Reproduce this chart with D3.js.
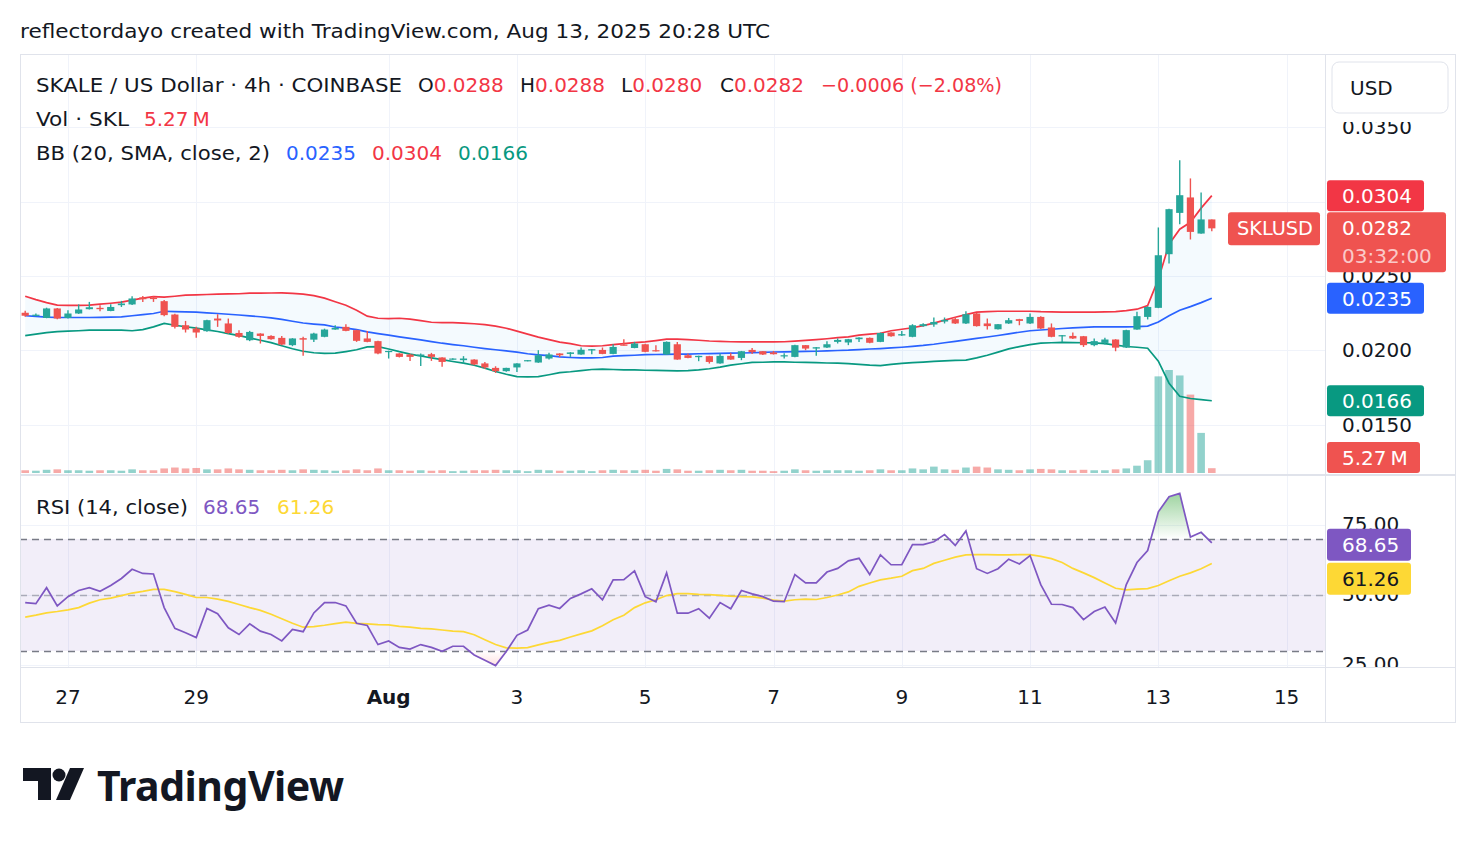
<!DOCTYPE html>
<meta charset="utf-8">
<style>
    body { margin: 0; background: #fff; }
    text { font-family: "DejaVu Sans", sans-serif; }
    text.logo { font-family: "Noto Sans", sans-serif; }
</style>
<body>
<script src="https://d3js.org/d3.v7.min.js"></script>
<script>
// SKL/USD 4h candles, first bar Jul 26 08:00 UTC
var startTime = Date.UTC(2025, 6, 26, 8);
var barMs = 4 * 3600 * 1000;

var opens = [0.02252,0.02232,0.02217,0.02281,0.02217,0.02247,0.02276,0.02285,0.02264,0.02303,
0.02308,0.02355,0.02352,0.0233,0.0224,0.02168,0.02146,0.02128,0.02213,0.0218,
0.02116,0.02067,0.02112,0.02096,0.02083,0.02034,0.02081,0.02071,0.0209,0.02139,
0.02157,0.02135,0.02079,0.02061,0.01989,0.01978,0.01971,0.0196,0.01973,0.01951,
0.01937,0.01933,0.01937,0.01911,0.01881,0.01859,0.01884,0.01926,0.01917,0.01944,
0.01978,0.01975,0.01971,0.01998,0.02002,0.01975,0.02038,0.02015,0.0204,0.02,
0.01971,0.0204,0.01966,0.01953,0.0196,0.01911,0.01962,0.01948,0.02002,0.01993,
0.01985,0.01958,0.01955,0.02034,0.02011,0.02018,0.02056,0.02052,0.02074,0.02083,
0.02056,0.02119,0.02099,0.0209,0.02162,0.02173,0.02193,0.02209,0.0218,0.02247,
0.0218,0.02141,0.0218,0.02209,0.0218,0.02224,0.02153,0.02094,0.02096,0.02094,
0.02034,0.02049,0.02072,0.02018,0.02139,0.02224,0.02285,0.02646,0.02924,0.03028,
0.02785,0.0288];
var highs = [0.02266,0.02247,0.02286,0.02284,0.02269,0.02308,0.02325,0.02303,0.0231,0.02332,
0.02363,0.02365,0.02363,0.02337,0.02246,0.02197,0.02157,0.02205,0.02242,0.02213,
0.02135,0.0213,0.02114,0.02101,0.02096,0.02081,0.0209,0.02118,0.02145,0.02168,
0.02175,0.02138,0.0213,0.02064,0.01997,0.0198,0.01976,0.01978,0.01982,0.01953,
0.01946,0.0196,0.01939,0.01921,0.01892,0.01882,0.01913,0.01934,0.02,0.01982,
0.0198,0.01987,0.02018,0.02008,0.02018,0.0204,0.02074,0.02056,0.02044,0.02034,
0.02059,0.02056,0.01978,0.01963,0.01962,0.01978,0.01982,0.01995,0.02015,0.01995,
0.01995,0.0198,0.02036,0.02035,0.02022,0.02061,0.02079,0.02076,0.02087,0.02085,
0.02119,0.02121,0.0213,0.02175,0.02182,0.0222,0.0222,0.02224,0.02262,0.02251,
0.02213,0.02177,0.02217,0.02211,0.02247,0.02229,0.0218,0.02102,0.02119,0.02096,
0.02079,0.02083,0.02074,0.02138,0.02258,0.02296,0.02826,0.02952,0.03279,0.03156,
0.03061,0.0288];
var lows = [0.02225,0.02229,0.02215,0.02209,0.02213,0.02244,0.02274,0.02262,0.02262,0.02291,
0.02305,0.02325,0.02325,0.02229,0.02146,0.02119,0.02083,0.02125,0.02157,0.02111,
0.02084,0.02061,0.02045,0.02071,0.02034,0.02027,0.01963,0.02056,0.02087,0.02137,
0.02128,0.02056,0.02054,0.01973,0.01944,0.01951,0.01928,0.01894,0.01928,0.01888,
0.01935,0.0191,0.01899,0.01874,0.01847,0.01855,0.01854,0.01925,0.01915,0.01937,
0.01955,0.01955,0.0197,0.01973,0.01973,0.01973,0.02032,0.02013,0.01987,0.01991,
0.01968,0.01935,0.01946,0.01926,0.0191,0.01908,0.01935,0.01933,0.01975,0.01968,
0.01971,0.01944,0.01953,0.02,0.01962,0.02015,0.02045,0.02034,0.02056,0.02047,
0.02054,0.02091,0.02096,0.02087,0.02158,0.02157,0.0218,0.02177,0.02177,0.02159,
0.02139,0.02139,0.02177,0.02168,0.02177,0.02143,0.02087,0.02056,0.02076,0.02022,
0.02027,0.02038,0.01993,0.02015,0.02137,0.02207,0.02283,0.02584,0.02848,0.02745,
0.02783,0.028];
var closes = [0.02232,0.02239,0.02281,0.02213,0.02247,0.02274,0.02289,0.02276,0.02291,0.02314,
0.02348,0.02343,0.02344,0.02236,0.02157,0.02139,0.02119,0.02202,0.022,0.02116,
0.0209,0.02123,0.02096,0.02074,0.02038,0.02079,0.02071,0.02112,0.02139,0.0215,
0.0213,0.02063,0.02056,0.01978,0.01995,0.01955,0.01955,0.01971,0.01955,0.01921,
0.01944,0.01944,0.01904,0.01884,0.01859,0.01881,0.01911,0.01933,0.01966,0.01971,
0.01966,0.01985,0.02003,0.02007,0.01975,0.02022,0.02034,0.02045,0.01989,0.01993,
0.02056,0.01937,0.01948,0.01962,0.01921,0.01962,0.01937,0.01993,0.01987,0.01971,
0.01973,0.01966,0.02034,0.02011,0.0202,0.0204,0.02069,0.02074,0.02085,0.0205,
0.02116,0.02094,0.02108,0.02168,0.02175,0.0219,0.02204,0.0218,0.02242,0.02162,
0.02162,0.02175,0.02202,0.02197,0.02224,0.02146,0.0209,0.02101,0.02079,0.02034,
0.02061,0.02072,0.02017,0.02135,0.02229,0.02291,0.02639,0.02949,0.03043,0.02796,
0.0288,0.0282];
// volume in millions of SKL
var volumes = [3,2.5,3.5,4,3,3,2.5,3,3,2.5,
4,3,3,5,6,5,5.5,4,4,5,
4,3.5,3,3,3.5,3,4,3.5,3,2.5,
3,4,3,5,3,3,2.5,3,2.5,3,
2,2.5,3,3,3.5,3,3,2,3.5,3,
2.5,2.5,3,2,3,3.5,3,3,3.5,2.5,
4.5,4,2.5,2.5,3,3.5,3,3.5,2.5,2.5,
2,2.5,4,3,2.5,3,3,3,2.5,3,
4,3,3,5,4,7,4,3.5,6,7,
6,4,3.5,3,4,4.5,4,3,3,3.5,
3,3,4,5,8,14,106,113,107,86,
44,5.27];

// Bollinger bands (20, 2) as shown
var bbUpper = [0.02363,0.0234,0.0232,0.02303,0.02301,0.02301,0.02303,0.0231,0.02316,0.02323,
0.02337,0.0235,0.0236,0.02357,0.02363,0.0237,0.02372,0.02375,0.02377,0.02379,
0.0238,0.02384,0.02384,0.02385,0.02386,0.02382,0.02377,0.02367,0.0235,0.02326,
0.02303,0.02269,0.02229,0.02215,0.02213,0.02215,0.02209,0.02199,0.02188,0.02186,
0.02185,0.02182,0.02178,0.02172,0.02162,0.02148,0.02128,0.02108,0.02088,0.02071,
0.02054,0.02044,0.0203,0.02027,0.0203,0.02038,0.02044,0.02051,0.02056,0.02065,
0.02074,0.02074,0.02071,0.02067,0.02062,0.02059,0.02057,0.02056,0.02056,0.02056,
0.02056,0.02057,0.02061,0.02066,0.02071,0.02077,0.02084,0.0209,0.02101,0.02108,
0.02114,0.02131,0.02141,0.02151,0.02165,0.02182,0.02202,0.02222,0.02239,0.02256,
0.02259,0.02262,0.02262,0.02262,0.02262,0.02259,0.02258,0.02256,0.02256,0.02256,
0.02256,0.02258,0.0226,0.02266,0.02276,0.023,0.02478,0.02713,0.02814,0.02861,
0.02956,0.0304];
var bbBasis = [0.02232,0.02227,0.02222,0.0222,0.0222,0.0222,0.0222,0.02221,0.02222,0.02224,
0.02232,0.0224,0.02247,0.02262,0.0226,0.02258,0.02256,0.02251,0.02247,0.02242,
0.02237,0.02231,0.02225,0.02217,0.02207,0.02195,0.02183,0.02176,0.0217,0.02156,
0.02148,0.02138,0.02123,0.02112,0.02101,0.0209,0.02079,0.02069,0.02058,0.02047,
0.02038,0.0203,0.0202,0.02011,0.02003,0.01995,0.01987,0.01976,0.01969,0.01963,
0.01955,0.01951,0.01948,0.01949,0.01951,0.0196,0.01963,0.01966,0.0197,0.01971,
0.01972,0.01973,0.01974,0.01976,0.01977,0.01978,0.0198,0.01981,0.01983,0.01986,
0.01988,0.01989,0.01991,0.01992,0.01993,0.01996,0.01998,0.02,0.02004,0.02008,
0.02011,0.02015,0.0202,0.02026,0.02032,0.0204,0.0205,0.02059,0.02069,0.02079,
0.02089,0.02099,0.0211,0.02121,0.02131,0.02136,0.02141,0.02146,0.0215,0.02153,
0.02157,0.02157,0.02157,0.02157,0.02158,0.02162,0.0219,0.02232,0.02269,0.02293,
0.0232,0.0235];
var bbLower = [0.02098,0.02108,0.02118,0.02125,0.02128,0.02131,0.02135,0.02135,0.02135,0.02135,
0.02131,0.02138,0.02157,0.0218,0.02168,0.02158,0.02148,0.02137,0.02126,0.02112,
0.02098,0.02083,0.02067,0.02051,0.0203,0.0201,0.01993,0.01983,0.01978,0.0198,
0.01991,0.02003,0.02022,0.02024,0.02008,0.0199,0.01974,0.01961,0.01948,0.01936,
0.01924,0.01913,0.01899,0.01879,0.01857,0.01838,0.01822,0.0182,0.01822,0.01835,
0.01849,0.01855,0.01863,0.0187,0.01872,0.0187,0.01868,0.01867,0.01865,0.01864,
0.01863,0.01861,0.01862,0.01867,0.01875,0.01886,0.01899,0.01909,0.01918,0.01919,
0.01921,0.01921,0.01919,0.01918,0.01916,0.01914,0.01913,0.0191,0.01904,0.01899,
0.01896,0.01904,0.01911,0.01916,0.0192,0.01925,0.01928,0.01931,0.01933,0.01948,
0.01966,0.01987,0.02009,0.02024,0.02037,0.02047,0.0205,0.02052,0.02051,0.0205,
0.02049,0.02044,0.02034,0.02025,0.0202,0.02013,0.01926,0.01778,0.0169,0.01675,
0.01667,0.0166];

// RSI (14) and its moving average
var rsi = [47.3,46.9,52.6,46.1,49.4,51.6,52.6,51.3,53.4,55.9,
59.2,57.7,57.5,45.5,38.1,36.5,34.8,45.2,43.3,38.3,
35.9,39.7,37.1,35.9,33.6,37.7,36.9,43.6,47.3,47.3,
46.1,39.9,39.1,32.3,33.6,31.3,30.7,32.3,31.3,29.9,
31.7,31.7,28.6,26.7,24.8,29.8,35.6,37.5,45.1,46.4,
45.2,48.8,50.4,52.2,48.3,55.4,55.5,58.6,49.4,47.6,
57.9,43.5,43.5,45.1,41.7,47.3,45.1,51.6,50.4,49.4,
47.8,47.6,57.3,54.3,54.3,58.2,59.5,62.2,63.1,57.3,
64.3,60.8,60.8,68,68,69,71.6,67.7,72.9,59.4,
57.7,59.4,62.8,61.1,64.1,53.7,46.7,46.6,45.5,41.2,
44.1,45.7,40,53.7,61.6,65.9,79.7,85.1,86.3,70.7,
72.4,68.65];
var rsiMa = [42.1,42.8,43.6,44.1,44.7,45.5,47.1,48.3,48.9,49.8,
50.7,51.3,52,52,51.2,50.2,49.1,49.1,48.5,47.7,
46.6,45.5,44.5,43.1,41.5,39.9,38.5,38.7,39.2,39.8,
40.3,39.9,39.7,39.4,39.3,38.8,38.5,38.1,37.9,37.5,
37.1,36.9,35.8,34,32.3,31.1,31,31.2,32.2,33.1,
33.8,35,36.1,37.2,39,41.2,42.8,45.5,47.2,48.3,
49.8,50.5,50.5,50.2,50.1,49.9,49.6,49.4,49.3,48.9,
48.2,47.8,48.3,48.5,48.4,49.1,50,51.1,53.1,54.3,
55.4,56,56.7,58.7,59.5,61.3,62.4,63.5,64.3,64.4,
64.4,64.3,64.3,64.4,64.4,63.8,63,61.6,59.5,57.9,
56.2,54.3,52.4,51.8,52.1,52.3,53.4,55.1,56.7,57.9,
59.4,61.26];

var priceTicks = [0.015, 0.02, 0.025, 0.03, 0.035];
var rsiTicks = [25, 50, 75];
var timeTicks = [Date.UTC(2025,6,27), Date.UTC(2025,6,29), Date.UTC(2025,7,1), Date.UTC(2025,7,3),
    Date.UTC(2025,7,5), Date.UTC(2025,7,7), Date.UTC(2025,7,9), Date.UTC(2025,7,11),
    Date.UTC(2025,7,13), Date.UTC(2025,7,15)];
var timeLabels = ["27", "29", "Aug", "3", "5", "7", "9", "11", "13", "15"];

var green = "#26a69a", red = "#ef5350";
var width = 1476, height = 844;
var idx = d3.range(closes.length);
var dates = idx.map(function(i) { return new Date(startTime + i * barMs); });

var svg = d3.select("body").append("svg")
    .attr("width", width)
    .attr("height", height);

var x = d3.scaleUtc()
    .domain([dates[0], dates[dates.length - 1]])
    .range([25.2, 1211.8]);
var y = d3.scaleLinear().domain([0.015, 0.035]).range([424.5, 127.3]);
var yv = d3.scaleLinear().domain([0, 113]).range([473, 370]);
var yr = d3.scaleLinear().domain([25, 75]).range([665, 525]);

var defs = svg.append("defs");
defs.append("clipPath").attr("id", "clipMain")
    .append("rect").attr("x", 20).attr("y", 55).attr("width", 1305).attr("height", 419);
defs.append("clipPath").attr("id", "clipRsi")
    .append("rect").attr("x", 20).attr("y", 477).attr("width", 1305).attr("height", 190);
defs.append("clipPath").attr("id", "clipRsiAxis")
    .append("rect").attr("x", 1326).attr("y", 477).attr("width", 130).attr("height", 190);
defs.append("clipPath").attr("id", "clipOB")
    .append("rect").attr("x", 20).attr("y", 477).attr("width", 1305).attr("height", yr(70) - 477);
defs.append("clipPath").attr("id", "clipOS")
    .append("rect").attr("x", 20).attr("y", yr(30)).attr("width", 1305).attr("height", 667 - yr(30));

var gOB = defs.append("linearGradient").attr("id", "gradOB")
    .attr("gradientUnits", "userSpaceOnUse").attr("x1", 0).attr("x2", 0)
    .attr("y1", yr(100)).attr("y2", yr(70));
gOB.append("stop").attr("offset", 0).attr("stop-color", "rgb(76,175,80)").attr("stop-opacity", 1);
gOB.append("stop").attr("offset", 1).attr("stop-color", "rgb(76,175,80)").attr("stop-opacity", 0);
var gOS = defs.append("linearGradient").attr("id", "gradOS")
    .attr("gradientUnits", "userSpaceOnUse").attr("x1", 0).attr("x2", 0)
    .attr("y1", yr(30)).attr("y2", yr(0));
gOS.append("stop").attr("offset", 0).attr("stop-color", "rgb(255,82,82)").attr("stop-opacity", 0);
gOS.append("stop").attr("offset", 1).attr("stop-color", "rgb(255,82,82)").attr("stop-opacity", 1);

var dark = "#131722", lred = "#f23645";

// header
svg.append("text").attr("x", 20).attr("y", 31)
    .attr("dominant-baseline", "central")
    .attr("font-size", 20).attr("fill", dark)
    .attr("textLength", 750).attr("lengthAdjust", "spacingAndGlyphs")
    .text("reflectordayo created with TradingView.com, Aug 13, 2025 20:28 UTC");

// grid
var grid = svg.append("g").attr("stroke", "#f0f3fa").attr("stroke-width", 1);
timeTicks.forEach(function(t) {
    var tx = Math.round(x(new Date(t))) + 0.5;
    grid.append("line").attr("x1", tx).attr("x2", tx).attr("y1", 55).attr("y2", 667);
});
priceTicks.forEach(function(p) {
    var ty = Math.round(y(p)) + 0.5;
    grid.append("line").attr("x1", 20).attr("x2", 1325).attr("y1", ty).attr("y2", ty);
});
rsiTicks.forEach(function(v) {
    var ty = Math.round(yr(v)) + 0.5;
    grid.append("line").attr("x1", 20).attr("x2", 1325).attr("y1", ty).attr("y2", ty);
});

// main pane
var main = svg.append("g").attr("clip-path", "url(#clipMain)");

main.append("path")
    .datum(idx)
    .attr("fill", "rgba(33,150,243,0.05)")
    .attr("d", d3.area()
        .x(function(i) { return x(dates[i]); })
        .y0(function(i) { return y(bbLower[i]); })
        .y1(function(i) { return y(bbUpper[i]); }));

main.selectAll("rect.vol")
    .data(idx)
    .enter().append("rect")
    .attr("class", "vol")
    .attr("x", function(i) { return x(dates[i]) - 3.8; })
    .attr("width", 7.6)
    .attr("y", function(i) { return yv(volumes[i]); })
    .attr("height", function(i) { return yv(0) - yv(volumes[i]); })
    .attr("fill", function(i) { return closes[i] >= opens[i] ? "rgba(38,166,154,0.5)" : "rgba(239,83,80,0.5)"; });

[[bbUpper, "#f23645"], [bbBasis, "#2962ff"], [bbLower, "#089981"]].forEach(function(s) {
    main.append("path")
        .datum(idx)
        .attr("fill", "none")
        .attr("stroke", s[1])
        .attr("stroke-width", 1.7)
        .attr("d", d3.line()
            .x(function(i) { return x(dates[i]); })
            .y(function(i) { return y(s[0][i]); }));
});

var candle = main.selectAll("g.candle")
    .data(idx)
    .enter().append("g")
    .attr("class", "candle")
    .attr("fill", function(i) { return closes[i] >= opens[i] ? green : red; })
    .attr("stroke", function(i) { return closes[i] >= opens[i] ? green : red; });

candle.append("line")
    .attr("x1", function(i) { return x(dates[i]); })
    .attr("x2", function(i) { return x(dates[i]); })
    .attr("y1", function(i) { return y(highs[i]); })
    .attr("y2", function(i) { return y(lows[i]); })
    .attr("stroke-width", 1.4);

candle.append("rect")
    .attr("stroke", "none")
    .attr("x", function(i) { return x(dates[i]) - 3.6; })
    .attr("width", 7.2)
    .attr("y", function(i) { return y(Math.max(opens[i], closes[i])); })
    .attr("height", function(i) { return Math.max(1.2, Math.abs(y(opens[i]) - y(closes[i]))); });

// RSI pane
var rp = svg.append("g").attr("clip-path", "url(#clipRsi)");
rp.append("rect").attr("x", 20).attr("width", 1305)
    .attr("y", yr(70)).attr("height", yr(30) - yr(70))
    .attr("fill", "rgba(126,87,194,0.1)");

var rsiX = function(i) { return x(dates[i]); };
rp.append("path").datum(idx)
    .attr("clip-path", "url(#clipOB)")
    .attr("fill", "url(#gradOB)")
    .attr("d", d3.area().x(rsiX).y0(yr(70)).y1(function(i) { return yr(rsi[i]); }));
rp.append("path").datum(idx)
    .attr("clip-path", "url(#clipOS)")
    .attr("fill", "url(#gradOS)")
    .attr("d", d3.area().x(rsiX).y0(yr(30)).y1(function(i) { return yr(rsi[i]); }));

[[70, "#787b86"], [50, "rgba(120,123,134,0.55)"], [30, "#787b86"]].forEach(function(l) {
    var ly = Math.round(yr(l[0])) + 0.5;
    rp.append("line").attr("x1", 20).attr("x2", 1325).attr("y1", ly).attr("y2", ly)
        .attr("stroke", l[1]).attr("stroke-width", 1.3).attr("stroke-dasharray", "7,5");
});

rp.append("path").datum(idx)
    .attr("fill", "none").attr("stroke", "#fdd835").attr("stroke-width", 1.7)
    .attr("d", d3.line().x(rsiX).y(function(i) { return yr(rsiMa[i]); }));
rp.append("path").datum(idx)
    .attr("fill", "none").attr("stroke", "#7e57c2").attr("stroke-width", 1.7)
    .attr("d", d3.line().x(rsiX).y(function(i) { return yr(rsi[i]); }));

// legends: each piece [text, colour, x, width to fit]
function legend(ly, parts) {
    parts.forEach(function(p) {
        var t = svg.append("text").attr("x", p[2]).attr("y", ly)
            .attr("dominant-baseline", "central").attr("font-size", 20);
        if (p[3]) t.attr("textLength", p[3]).attr("lengthAdjust", "spacingAndGlyphs");
        p[0].forEach(function(s, k) {
            t.append("tspan").attr("fill", p[1][k]).text(s);
        });
    });
}
legend(85, [[["SKALE / US Dollar · 4h · COINBASE"], [dark], 36, 366],
    [["O", "0.0288"], [dark, lred], 418], [["H", "0.0288"], [dark, lred], 520],
    [["L", "0.0280"], [dark, lred], 621], [["C", "0.0282"], [dark, lred], 720],
    [["\u22120.0006 (\u22122.08%)"], [lred], 821, 181]]);
legend(119, [[["Vol · SKL"], [dark], 36, 93], [["5.27\u2009M"], [lred], 144]]);
legend(153, [[["BB (20, SMA, close, 2)"], [dark], 36, 234], [["0.0235"], ["#2962ff"], 286],
    [["0.0304"], [lred], 372], [["0.0166"], ["#089981"], 458]]);
legend(507, [[["RSI (14, close)"], [dark], 36, 152], [["68.65"], ["#7e57c2"], 203],
    [["61.26"], ["#fdd835"], 277]]);

// price scale
var axisG = svg.append("g").attr("font-size", 20).attr("fill", dark);
priceTicks.forEach(function(p) {
    axisG.append("text").attr("x", 1342).attr("y", y(p))
        .attr("dominant-baseline", "central").text(d3.format(".4f")(p));
});
var rsiAxis = svg.append("g").attr("font-size", 20).attr("fill", dark)
    .attr("clip-path", "url(#clipRsiAxis)");
rsiTicks.forEach(function(v) {
    rsiAxis.append("text").attr("x", 1342).attr("y", yr(v) - 1)
        .attr("dominant-baseline", "central").text(d3.format(".2f")(v));
});

// USD button
svg.append("rect").attr("x", 1326).attr("y", 55).attr("width", 129).attr("height", 67).attr("fill", "#fff");
svg.append("rect").attr("x", 1332).attr("y", 62).attr("width", 116).attr("height", 51).attr("rx", 7)
    .attr("fill", "#fff").attr("stroke", "#e0e3eb");
svg.append("text").attr("x", 1350).attr("y", 88).attr("dominant-baseline", "central")
    .attr("font-size", 20).attr("fill", dark).text("USD");

function tag(tx, ty, w, h, fill, lines, fit) {
    svg.append("rect").attr("x", tx).attr("y", ty).attr("width", w).attr("height", h)
        .attr("rx", 3).attr("fill", fill);
    lines.forEach(function(l, k) {
        var t = svg.append("text").attr("x", tx + (fit ? 9 : 15)).attr("y", ty + 16 + k * 28)
            .attr("dominant-baseline", "central").attr("font-size", 20)
            .attr("fill", l[1]).text(l[0]);
        if (fit) t.attr("textLength", fit).attr("lengthAdjust", "spacingAndGlyphs");
    });
}
var last = closes.length - 1;
tag(1327, y(bbUpper[last]) - 15.5, 97, 31, "#f23645", [[d3.format(".4f")(bbUpper[last]), "#fff"]]);
tag(1327, y(closes[last]) - 16, 119, 60, red, [[d3.format(".4f")(closes[last]), "#fff"], ["03:32:00", "rgba(255,255,255,0.7)"]]);
tag(1228, y(closes[last]) - 16, 92, 33, red, [["SKLUSD", "#fff"]], 76);
tag(1327, y(bbBasis[last]) - 15.5, 97, 31, "#2962ff", [[d3.format(".4f")(bbBasis[last]), "#fff"]]);
tag(1327, y(bbLower[last]) - 15.5, 97, 31, "#089981", [[d3.format(".4f")(bbLower[last]), "#fff"]]);
tag(1327, 442, 93, 31, red, [["5.27\u2009M", "#fff"]]);
tag(1327, yr(rsi[last]) - 14, 84, 32, "#7e57c2", [[d3.format(".2f")(rsi[last]), "#fff"]]);
tag(1327, yr(rsi[last]) + 20, 84, 32, "#fdd835", [[d3.format(".2f")(rsiMa[last]), dark]]);

// time axis
timeTicks.forEach(function(t, k) {
    svg.append("text").attr("x", x(new Date(t))).attr("y", 697)
        .attr("text-anchor", "middle").attr("dominant-baseline", "central")
        .attr("font-size", 20).attr("fill", dark)
        .attr("font-weight", timeLabels[k] === "Aug" ? "bold" : null)
        .text(timeLabels[k]);
});

// pane borders
var border = svg.append("g").attr("fill", "#e0e3eb");
border.append("rect").attr("x", 20).attr("y", 54).attr("width", 1436).attr("height", 1);
border.append("rect").attr("x", 20).attr("y", 722).attr("width", 1436).attr("height", 1);
border.append("rect").attr("x", 20).attr("y", 54).attr("width", 1).attr("height", 669);
border.append("rect").attr("x", 1455).attr("y", 54).attr("width", 1).attr("height", 669);
border.append("rect").attr("x", 1325).attr("y", 54).attr("width", 1).attr("height", 669);
border.append("rect").attr("x", 20).attr("y", 474).attr("width", 1436).attr("height", 2);
border.append("rect").attr("x", 20).attr("y", 667).attr("width", 1436).attr("height", 1);

// TradingView logo
var logo = svg.append("g").attr("fill", dark);
logo.append("path").attr("d", "M23,768 H51 V800 H38 V781 H23 Z");
logo.append("circle").attr("cx", 59).attr("cy", 775).attr("r", 6.5);
logo.append("path").attr("d", "M70,768 H84 L70,800 H56 Z");
svg.append("text").attr("class", "logo").attr("x", 97).attr("y", 785).attr("dominant-baseline", "central")
    .attr("font-size", 41).attr("font-weight", "bold").attr("fill", dark)
    .attr("letter-spacing", -0.5)
    .text("TradingView");
</script>
</body>
</html>
